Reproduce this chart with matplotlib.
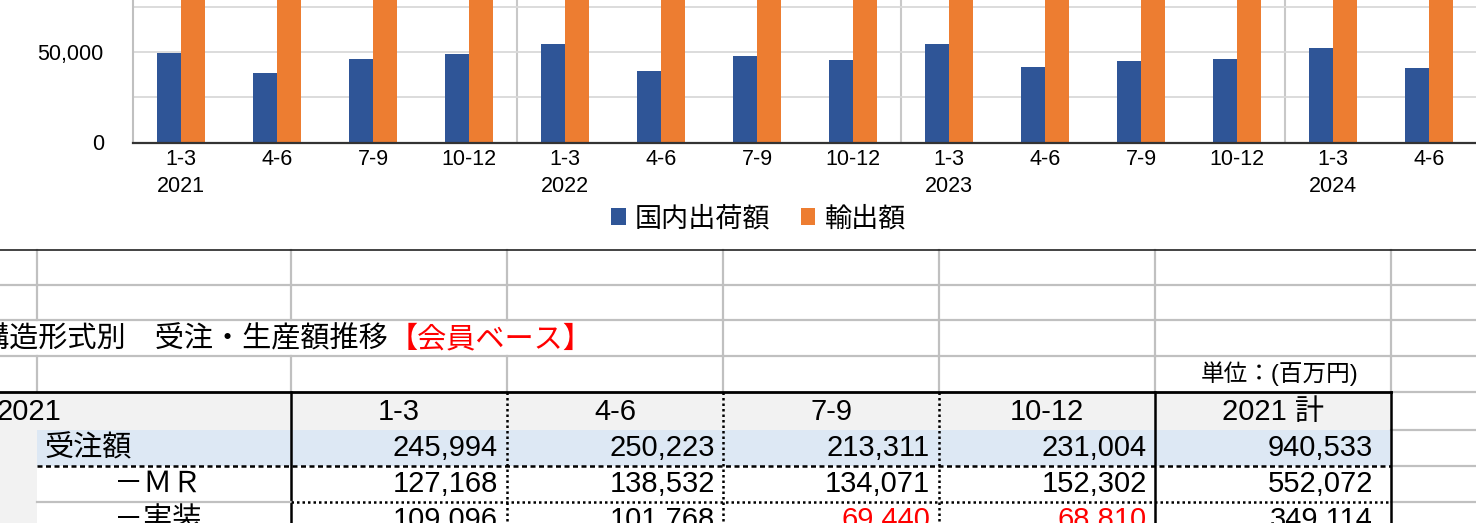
import matplotlib
matplotlib.use('Agg')
import matplotlib.pyplot as plt
from matplotlib import transforms
from matplotlib.patches import Rectangle
import numpy as np

plt.rcParams['font.family'] = ['Liberation Sans', 'Noto Sans CJK JP']

# chart data (million yen)
quarters = ['1-3', '4-6', '7-9', '10-12'] * 3 + ['1-3', '4-6']
years = ['2021', '2022', '2023', '2024']
domestic = [49800, 38700, 46500, 49300, 54400, 39600, 47800, 45900,
            54800, 41800, 45400, 46100, 52400, 41300]
exports = [152000, 165000, 160000, 170000, 158000, 150000, 168000, 175000,
           150000, 140000, 130000, 125000, 120000, 130000]
series_names = ['国内出荷額', '輸出額']

# table data
table_year = '2021'
table_cols = ['1-3', '4-6', '7-9', '10-12', '2021 計']
row_names = ['受注額', '－ＭＲ', '－実装']
orders = [245994, 250223, 213311, 231004, 940533]
mr = [127168, 138532, 134071, 152302, 552072]
mounting = [109096, 101768, 69440, 68810, 349114]
mounting_red = [False, False, True, True, False]

W, H = 1476, 523
fig = plt.figure(figsize=(W / 100, H / 100), dpi=100)

# ---------- spreadsheet part (pixel coordinates) ----------
tab = fig.add_axes([0, 0, 1, 1])
tab.set_xlim(0, W)
tab.set_ylim(H, 0)
tab.axis('off')

cols = [37, 291, 507, 723, 939, 1155, 1391]
gray = '#c0c0c0'

# backgrounds
tab.add_patch(Rectangle((0, 392), 1391, 38, color='#f2f2f2', lw=0))
tab.add_patch(Rectangle((0, 430), 37, 120, color='#f2f2f2', lw=0))
tab.add_patch(Rectangle((37, 430), 1354, 36, color='#dde8f4', lw=0))

# plain grid above the table
for c in cols:
    tab.plot([c, c], [250, 320], color=gray, lw=1.6)
    tab.plot([c, c], [356, 392], color=gray, lw=1.6)
    if c >= 723:
        tab.plot([c, c], [320, 356], color=gray, lw=1.6)
for r in [285, 320, 356]:
    tab.plot([0, W], [r, r], color=gray, lw=1.6)
for r in [392, 430, 466, 502]:
    tab.plot([1391, W], [r, r], color=gray, lw=1.6)
tab.plot([0, W], [250, 250], color='#222222', lw=1.2)

# table borders
tab.plot([0, 1391], [392, 392], color='black', lw=2)
for c in [291, 1155, 1391]:
    tab.plot([c, c], [392, 540], color='black', lw=1.8)
for c in [507, 723, 939]:
    tab.plot([c, c], [392, 540], color='black', lw=1.8, ls=(0, (1, 1.2)))
tab.plot([37, 1391], [466, 466], color='black', lw=1.8, ls=(0, (2, 1.4)))
tab.plot([37, 291], [502, 502], color=gray, lw=1.6)
tab.plot([291, 1391], [502, 502], color='black', lw=1.8, ls=(0, (1, 1.2)))

# texts
fs = 21
em = fs * 100 / 72
tab.text(-20, 339, '構造形式別　受注・生産額推移', fontsize=fs, va='center', ha='left')
tab.text(-20 + 14 * em, 339, '【会員ベース】', fontsize=fs, va='center', ha='left', color='red')
tab.text(1358, 374, '単位：(百万円)', fontsize=17, va='center', ha='right')

tab.text(-4, 412, table_year, fontsize=fs, va='center', ha='left')
for i, name in enumerate(table_cols):
    tab.text((cols[i + 1] + cols[i + 2]) / 2, 412, name, fontsize=fs, va='center', ha='center')

tab.text(44, 448, row_names[0], fontsize=fs, va='center', ha='left')
tab.text(114, 484, row_names[1], fontsize=fs, va='center', ha='left')
tab.text(114, 520, row_names[2], fontsize=fs, va='center', ha='left')

pads = [9, 8, 9, 8, 18]
for vals, y, reds in [(orders, 448, None), (mr, 484, None), (mounting, 520, mounting_red)]:
    for i, v in enumerate(vals):
        color = 'red' if reds and reds[i] else 'black'
        tab.text(cols[i + 2] - pads[i], y, f'{v:,}', fontsize=fs, va='center', ha='right', color=color)

# ---------- chart part ----------
ax = fig.add_axes([133 / W, (H - 142.5) / H, 1344 / W, 315.7 / H])
x = np.arange(len(quarters))
b1 = ax.bar(x - 0.125, domestic, 0.25, color='#2f5597', zorder=3)
b2 = ax.bar(x + 0.125, exports, 0.25, color='#ed7d31', zorder=3)
ax.set_xlim(-0.5, len(quarters) - 0.5)
ax.set_ylim(0, 175000)
ax.set_yticks([0, 50000, 100000, 150000])
ax.set_yticklabels([f'{v:,}' for v in [0, 50000, 100000, 150000]])
ax.set_yticks(np.arange(0, 175001, 25000), minor=True)
ax.grid(axis='y', which='both', color='#d9d9d9', lw=1.3, zorder=0)
ax.set_xticks(x)
ax.set_xticklabels(quarters)
ax.tick_params(axis='both', which='both', length=0, labelsize=15.5)
ax.tick_params(axis='y', pad=21)
ax.tick_params(axis='x', pad=5)
for s in ['top', 'right']:
    ax.spines[s].set_visible(False)
ax.spines['left'].set_color('#c0c0c0')
ax.spines['left'].set_linewidth(1.5)
ax.spines['bottom'].set_color('#333333')
ax.spines['bottom'].set_linewidth(1.6)
ax.spines['bottom'].set_zorder(4)
for sep in [3.5, 7.5, 11.5]:
    ax.axvline(sep, color='#c8c8c8', lw=1.5, zorder=1)

trans = transforms.blended_transform_factory(ax.transData, fig.transFigure)
for i, yr in enumerate(years):
    ax.text(4 * i, 1 - 187 / H, yr, fontsize=15.5, ha='center', va='center', transform=trans)

fig.legend([b1, b2], series_names, loc='center', bbox_to_anchor=(758.5 / W, 1 - 219 / H),
           ncol=2, frameon=False, fontsize=19.5, handlelength=0.55, handleheight=0.55,
           handletextpad=0.35, columnspacing=1.1)

fig.savefig('out.png', dpi=100)
